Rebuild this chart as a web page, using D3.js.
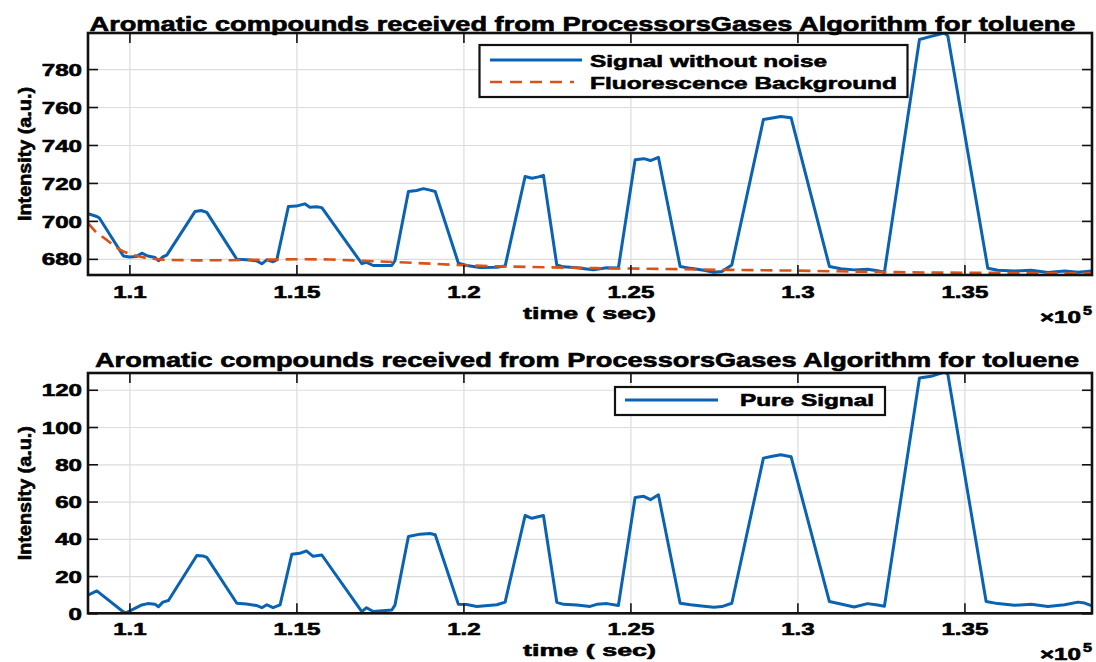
<!DOCTYPE html>
<html><head><meta charset="utf-8">
<script src="https://cdn.jsdelivr.net/npm/d3@7"></script>
<style>
body{margin:0;background:#fff}
text{font-family:"Liberation Sans",Arial,Helvetica,sans-serif;font-weight:bold;fill:#000;stroke:#000;stroke-width:0.6px;stroke-linejoin:round}
</style>
</head><body><svg id="c" width="1096" height="662"></svg>
<script>
// ---------- data ----------
const chartTitle = "Aromatic compounds received from ProcessorsGases Algorithm for toluene";
const xTicks = [110000,115000,120000,125000,130000,135000];
const xTickLabels = ["1.1","1.15","1.2","1.25","1.3","1.35"];
const topYTicks = [680,700,720,740,760,780];
const bottomYTicks = [0,20,40,60,80,100,120];
const seriesNames = ["Signal without noise","Fluorescence Background","Pure Signal"];

const signalTime = [108760,109024,109100,109820,110000,110200,110371,110550,110770,110870,111000,111120,111967,112150,112317,113216,113515,113800,113964,114114,114300,114413,114760,115000,115250,115400,115600,115761,116958,117100,117300,117856,117950,118353,118600,118800,119000,119155,119850,120100,120500,121000,121249,121847,122050,122250,122396,122796,122996,123400,123694,123894,124293,124640,125141,125400,125600,125838,126488,126800,127200,127500,127737,128036,128982,129250,129500,129812,130958,131300,131700,132100,132400,132605,133654,134000,134400,134503,135700,136000,136500,137000,137500,138000,138400,138820];
const signalValues = [703.8,702.3,701.5,681.5,681,681.2,683,681.5,680.7,679,681,682,705,705.5,704.5,679.8,679.5,679,677.4,679.5,678.5,679.5,707.6,707.8,709,707.2,707.4,707,677.5,678.2,676.5,676.5,679,715.5,716,717,716.2,715.5,677.7,676.5,675.5,675.6,676.2,723.4,722.5,723.2,724,676.8,675.8,675.3,674.7,674.3,675.3,675.2,732.2,732.8,731.8,733.5,676,675,674,673,673.4,676.8,753.4,754.2,755,754.3,676,674.8,674.2,674.5,673.7,673,795.6,797.2,799,797.5,675.1,674,673.6,674,672.8,673.6,672.9,673.6];

const backgroundTime = [108760,109000,109323,109600,109820,110100,110521,111000,112000,113000,114000,115000,116000,117000,118000,119000,120000,121000,122000,123000,124000,125000,126000,127000,128000,129000,130000,131000,132000,133000,134000,135000,136000,137000,138000,138820];
const backgroundValues = [698.8,694,690,686,683.9,682,680.4,679.5,679.2,679.3,679.6,679.8,679.7,679,678.3,677.5,676.6,676.1,675.7,675.4,675.1,674.9,674.7,674.4,674.2,674,673.8,673.5,673.2,673,672.8,672.7,672.6,672.5,672.4,672.3];

const pureTime = [108760,109024,109871,110000,110371,110550,110770,110870,111000,111168,112018,112200,112317,113216,113500,113800,113964,114114,114300,114512,114862,115100,115300,115500,115761,116958,117100,117300,117856,117950,118353,118700,119000,119155,119850,120100,120400,121000,121249,121847,122050,122396,122796,122996,123395,123793,123993,124293,124640,125141,125400,125600,125838,126488,126800,127200,127500,127737,128036,128982,129250,129500,129812,130958,131300,131700,132100,132400,132605,133654,134000,134400,134503,135650,136000,136500,137000,137500,138000,138400,138600,138820];
const pureValues = [9.8,12,0,1.2,4.5,5.2,4.8,3.5,6,6.9,31,30.8,30,5.4,5,4.2,3,4.6,3,4.5,31.7,32.2,33.5,30.6,31.3,0.9,3,1,1.8,4.4,41.2,42.5,42.8,42.2,4.8,4.7,3.7,4.6,6,52.5,51,52.5,5.9,4.8,4.4,3.7,4.8,5.2,4.2,62.2,62.8,61,63.6,5.4,4.6,3.8,3.2,3.6,5.4,83.3,84.3,85.1,84,6.3,5,3.4,5.2,4.4,3.8,126.3,127.2,129.5,128.5,6.3,5.2,4.3,4.8,3.6,4.6,6,5.5,4];

// ---------- drawing ----------
const svg = d3.select("#c");
const BLUE = "#0a62b3", ORANGE = "#D95319";
const L = 88, R = 1092;
const x = d3.scaleLinear().domain([108760, 138820]).range([L, R]);

function stretch(sel, f){
  sel.each(function(){
    const l = this.getComputedTextLength();
    this.setAttribute("textLength", l*f);
    this.setAttribute("lengthAdjust","spacingAndGlyphs");
  });
}
function fit(sel, len){
  sel.attr("textLength", len).attr("lengthAdjust","spacingAndGlyphs");
}

function panel(opt){
  const {top, bottom, yDomain, yTicks, id, series, titleX, titleLen, titleY, labelBase, expBase} = opt;
  const y = d3.scaleLinear().domain(yDomain).range([bottom, top]);
  const g = svg.append("g");
  const W = R - L, H = bottom - top;

  // grid
  const gx = g.append("g").attr("transform",`translate(0,${bottom})`)
    .call(d3.axisBottom(x).tickValues(xTicks).tickSize(-H).tickFormat(""));
  const gy = g.append("g").attr("transform",`translate(${L},0)`)
    .call(d3.axisLeft(y).tickValues(yTicks).tickSize(-W).tickFormat(""));
  [gx, gy].forEach(a => { a.select(".domain").remove(); a.selectAll("line").attr("stroke","#dcdcdc").attr("stroke-width",1.2); });

  // clip
  svg.append("clipPath").attr("id","clip"+id).append("rect")
    .attr("x",L).attr("y",top).attr("width",W).attr("height",H);

  series.forEach(s => {
    const data = s.t.map((t,i)=>[t, s.v[i]]);
    g.append("path").datum(data)
      .attr("clip-path",`url(#clip${id})`)
      .attr("fill","none").attr("stroke",s.color).attr("stroke-width",s.width)
      .attr("stroke-dasharray", s.dash || null)
      .attr("stroke-linejoin","round")
      .attr("d", d3.line().x(d=>x(d[0])).y(d=>y(d[1])));
  });

  // axes (inward ticks)
  const ax = g.append("g").attr("transform",`translate(0,${bottom})`)
    .call(d3.axisBottom(x).tickValues(xTicks).tickFormat((d,i)=>xTickLabels[i]).tickSizeInner(-10).tickSizeOuter(0).tickPadding(0));
  ax.selectAll("text").attr("y", labelBase - bottom).attr("dy", null).attr("font-size",17);
  const axTop = g.append("g").attr("transform",`translate(0,${top})`)
    .call(d3.axisTop(x).tickValues(xTicks).tickFormat("").tickSizeInner(-10).tickSizeOuter(0));
  const ay = g.append("g").attr("transform",`translate(${L},0)`)
    .call(d3.axisLeft(y).tickValues(yTicks).tickSizeInner(-10).tickSizeOuter(0).tickPadding(6));
  ay.selectAll("text").attr("font-size",17).attr("dy","0.36em");
  const ayR = g.append("g").attr("transform",`translate(${R},0)`)
    .call(d3.axisRight(y).tickValues(yTicks).tickFormat("").tickSizeInner(-10).tickSizeOuter(0));
  [ax, axTop, ay, ayR].forEach(a => {
    a.select(".domain").remove();
    a.selectAll("line").attr("stroke","#111").attr("stroke-width",1.6);
    a.selectAll("text").attr("font-family",null).attr("fill","#000");
  });
  stretch(ax.selectAll("text"), 1.42);
  stretch(ay.selectAll("text"), 1.42);

  // box
  g.append("rect").attr("x",L).attr("y",top).attr("width",W).attr("height",H)
    .attr("fill","none").attr("stroke","#111").attr("stroke-width",2.6);

  // title
  g.append("text").attr("x",titleX).attr("y",titleY).attr("font-size",20)
    .text(chartTitle).call(fit, titleLen);

  // x label
  g.append("text").attr("x",523).attr("y",expBase - 4).attr("font-size",17)
    .text("time ( sec)").call(fit, 133);
  // exponent
  g.append("text").attr("x",1040).attr("y",expBase).attr("font-size",16)
    .text("\u00d710").call(fit, 41);
  g.append("text").attr("x",1083).attr("y",expBase - 8).attr("font-size",12)
    .text("5").call(fit, 9);

  // y label
  g.append("text").attr("transform",`translate(31,${(top+bottom)/2}) rotate(-90)`)
    .attr("text-anchor","middle").attr("font-size",18)
    .text("Intensity (a.u.)").call(fit, 134);
  return {g, y};
}

const p1 = panel({top:33, bottom:275, yDomain:[671.5,799], yTicks:topYTicks, id:1,
  series:[{t:signalTime, v:signalValues, color:BLUE, width:3},
          {t:backgroundTime, v:backgroundValues, color:ORANGE, width:2.6, dash:"12,7"}],
  titleX:89.5, titleLen:986, titleY:31, labelBase:298, expBase:323});

const p2 = panel({top:373, bottom:613.3, yDomain:[0,129], yTicks:bottomYTicks, id:2,
  series:[{t:pureTime, v:pureValues, color:BLUE, width:3}],
  titleX:95, titleLen:984, titleY:367, labelBase:635, expBase:660});

// legends
const lg1 = p1.g.append("g");
lg1.append("rect").attr("x",479.5).attr("y",45).attr("width",428).attr("height",52)
  .attr("fill","#fff").attr("stroke","#111").attr("stroke-width",2.2);
lg1.append("line").attr("x1",490).attr("x2",582).attr("y1",60).attr("y2",60)
  .attr("stroke",BLUE).attr("stroke-width",3);
lg1.append("text").attr("x",590).attr("y",67).attr("font-size",17).text(seriesNames[0]).call(fit,237);
lg1.append("line").attr("x1",490).attr("x2",574).attr("y1",82).attr("y2",82)
  .attr("stroke",ORANGE).attr("stroke-width",2.6).attr("stroke-dasharray","12,8");
lg1.append("text").attr("x",590).attr("y",89).attr("font-size",17).text(seriesNames[1]).call(fit,307);

const lg2 = p2.g.append("g");
lg2.append("rect").attr("x",615).attr("y",387).attr("width",270).attr("height",28)
  .attr("fill","#fff").attr("stroke","#111").attr("stroke-width",2.2);
lg2.append("line").attr("x1",625).attr("x2",718).attr("y1",400).attr("y2",400)
  .attr("stroke",BLUE).attr("stroke-width",3);
lg2.append("text").attr("x",740).attr("y",406).attr("font-size",17).text(seriesNames[2]).call(fit,134);
</script>
</body></html>
